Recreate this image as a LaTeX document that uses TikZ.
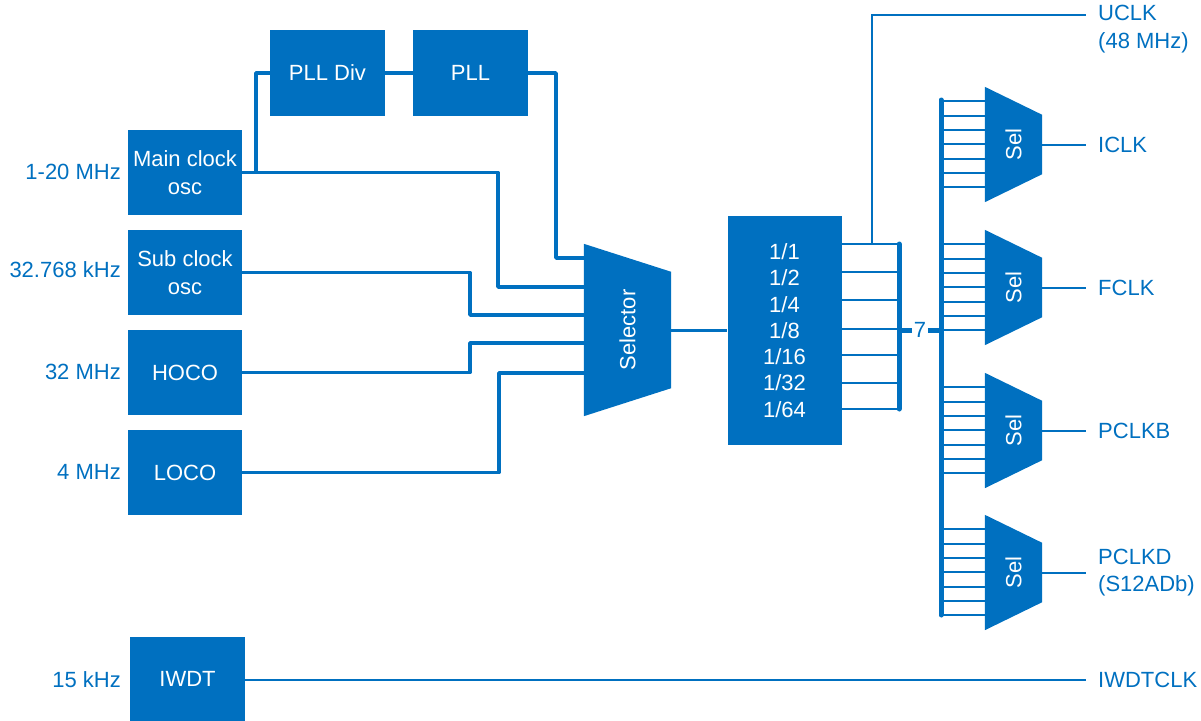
\documentclass[tikz,border=0pt]{standalone}
\usepackage{fontspec}
\setmainfont{Liberation Sans}
\usetikzlibrary{calc}
\definecolor{rblue}{RGB}{0,112,192}
\begin{document}
\begin{tikzpicture}[x=1pt,y=-1pt,
  font=\fontsize{22}{27.5}\selectfont,
  blk/.style={fill=rblue,text=white,inner sep=0pt,align=center},
  lbl/.style={text=rblue,inner sep=0pt},
  outlbl/.style={text=rblue,inner ysep=0pt,inner xsep=12pt,anchor=west,align=left},
  wire/.style={draw=rblue,line width=3.5pt,line join=round},
  thinw/.style={draw=rblue,line width=2pt},
  busline/.style={draw=rblue,line width=5pt,line cap=round},
  ghost/.style={inner sep=0pt,draw=none}]
\useasboundingbox (0,0) rectangle (1201,720);

% source blocks
\node[blk,minimum width=114pt,minimum height=85pt] (main) at (185,172.5) {Main clock\\osc};
\node[blk,minimum width=114pt,minimum height=85pt] (sub) at (185,272.5) {Sub clock\\osc};
\node[blk,minimum width=114pt,minimum height=85pt] (hoco) at (185,372.5) {HOCO};
\node[blk,minimum width=114pt,minimum height=85pt] (loco) at (185,472.5) {LOCO};
\node[blk,minimum width=115pt,minimum height=84pt] (iwdt) at (187.5,679) {IWDT};
\node[blk,minimum width=115pt,minimum height=86pt] (plldiv) at (327.5,73) {PLL Div};
\node[blk,minimum width=115pt,minimum height=86pt] (pll) at (470.5,73) {PLL};

% left labels
\node[lbl,anchor=east] (f1) at (121,172) {1-20 MHz};
\node[lbl,anchor=east] (f2) at (121,270) {32.768 kHz};
\node[lbl,anchor=east] (f3) at (121,372) {32 MHz};
\node[lbl,anchor=east] (f4) at (121,472) {4 MHz};
\node[lbl,anchor=east] (f5) at (121,680) {15 kHz};

% selector
\node[ghost,minimum width=87pt,minimum height=172pt] (sel) at (627.5,330) {};
\fill[rblue] (sel.north west) -- ($(sel.north east)+(0,28)$) -- ($(sel.south east)+(0,-28)$) -- (sel.south west) -- cycle;
\node[text=white,rotate=90,inner sep=0pt] (sellbl) at (sel.center) {Selector};

% divider
\node[blk,minimum width=114pt,minimum height=229pt,font=\fontsize{22}{26.3}\selectfont] (div) at (784.5,330.5) {1/1\\1/2\\1/4\\1/8\\1/16\\1/32\\1/64};

% source wires
\coordinate (br) at (256,172.5);
\draw[wire] (main.east) -| (498,287) -- (sel.west |- 0,287);
\draw[wire] (br) |- (plldiv.west);
\draw[wire] (plldiv.east) -- (pll.west);
\draw[wire] (pll.east) -| (556,258) -- (sel.west |- 0,258);
\draw[wire] (sub.east) -| (470,315) -- (sel.west |- 0,315);
\draw[wire] (hoco.east) -| (470,343) -- (sel.west |- 0,343);
\draw[wire] (loco.east) -| (499,373) -- (sel.west |- 0,373);
\draw[thinw,line width=3pt] (sel.east |- 0,330) -- (div.west |- 0,330);

% divider outputs and bus
\coordinate (bus1) at (899,330);
\foreach \y in {244,272,300,329,355,383,409}
  \draw[thinw] (div.east |- 0,\y) -- (bus1 |- 0,\y);
\draw[busline] (899,244) -- (899,409);
\node[lbl,inner sep=1.5pt] (seven) at (920,330) {7};
\coordinate (bus2) at (941,330);
\draw[busline,line cap=butt] (bus1) -- (seven.west);
\draw[busline,line cap=butt] (seven.east) -- (bus2);
\draw[busline] (941,100) -- (941,615);

% UCLK
\coordinate (tap) at (872,244);
\node[outlbl] (uclk) at (1086,29) {UCLK\\(48 MHz)};
\draw[thinw] (tap) |- (uclk.west |- 0,15);

% clock selectors
\foreach \n/\t in {s1/87,s2/230,s3/373,s4/515} {
  \node[ghost,minimum width=57pt,minimum height=115pt] (\n) at (1013.5,\t+57.5) {};
  \fill[rblue] (\n.north west) -- ($(\n.north east)+(0,28)$) -- ($(\n.south east)+(0,-28)$) -- (\n.south west) -- cycle;
  \node[text=white,rotate=90,inner sep=0pt] at (\n.center) {Sel};
  \foreach \k in {0,...,6}
    \draw[thinw] (941,\t+14.3+\k*14.3) -- (\n.west |- 0,\t+14.3+\k*14.3);
}

\node[outlbl] (iclk) at (1086,144.5) {ICLK};
\node[outlbl] (fclk) at (1086,287.5) {FCLK};
\node[outlbl] (pclkb) at (1086,430.5) {PCLKB};
\node[outlbl] (pclkd) at (1086,572.5) {PCLKD\\(S12ADb)};
\node[outlbl] (iwdtclk) at (1086,680) {IWDTCLK};

\draw[thinw] (s1.east) -- (iclk.west);
\draw[thinw] (s2.east) -- (fclk.west);
\draw[thinw] (s3.east) -- (pclkb.west);
\draw[thinw] (s4.east) -- (pclkd.west);
\draw[thinw] (iwdt.east |- 0,680) -- (iwdtclk.west);
\end{tikzpicture}
\end{document}
